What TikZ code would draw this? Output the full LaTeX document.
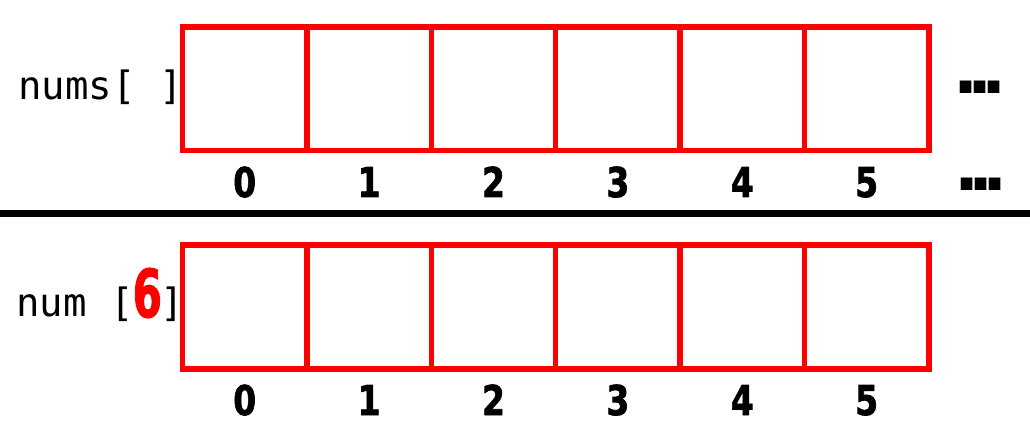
\documentclass[tikz,border=0pt]{standalone}
\usepackage{fontspec}
\setmainfont{DejaVu Sans}
\newfontfamily\monofont{DejaVu Sans Mono}
\newfontfamily\heavyfont{DejaVu Sans Bold}[FakeBold=2]
\newfontfamily\dotfont{DejaVu Sans Bold}
\definecolor{boxred}{RGB}{255,0,0}
\begin{document}
\begin{tikzpicture}[x=1pt,y=-1pt,
  cell/.style={draw=boxred,line width=5.5pt,minimum width=124.4pt,minimum height=123.5pt,inner sep=0pt,outer sep=0pt},
  idx/.style={font=\heavyfont\fontsize{41}{41}\selectfont,xscale=0.8,inner sep=0pt,anchor=base},
  lbl/.style={font=\monofont\fontsize{39}{40}\selectfont,inner sep=0pt,anchor=base west},
  dots/.style={font=\dotfont\fontsize{66}{66}\selectfont,inner sep=0pt},
  sep/.style={line width=7pt}]
\useasboundingbox (0,0) rectangle (1030,435);
% top array
\foreach \i in {0,...,5}{
  \node[cell] (t\i) at ({182.5+124.4*(\i+0.5)},88.75) {};
  \node[idx] (ti\i) at ({182.5+124.4*(\i+0.5)},197) {\i};
}
\node[lbl] (numsl) at (18,100) {nums[ ]};
\node[dots] (tdots) at (980,87) {.\kern-11pt.\kern-11pt.};
\node[dots] (tidots) at (981,184) {.\kern-11pt.\kern-11pt.};
% separator
\coordinate (sepL) at (0,214);
\coordinate (sepR) at (1030,214);
\draw[sep] (sepL) -- (sepR);
% bottom array
\foreach \i in {0,...,5}{
  \node[cell] (b\i) at ({182.5+124.4*(\i+0.5)},307) {};
  \node[idx] (bi\i) at ({182.5+124.4*(\i+0.5)},415) {\i};
}
\node[lbl] (numl) at (16,317) {num [\textcolor{boxred}{\heavyfont\fontsize{66}{66}\selectfont\kern-1pt\scalebox{0.64}[1]{6}\kern-1pt}]};
\end{tikzpicture}
\end{document}
